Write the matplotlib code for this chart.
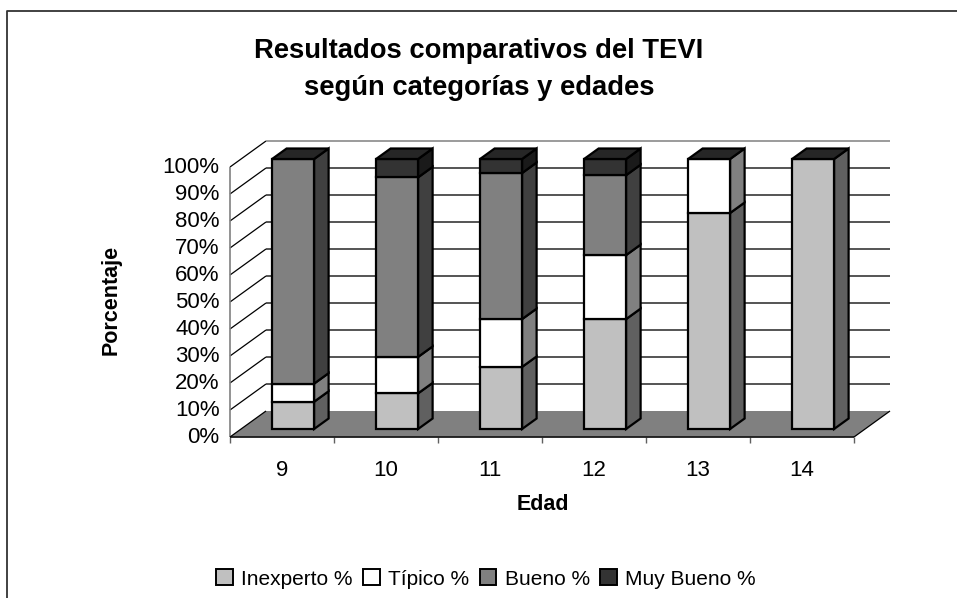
import matplotlib
matplotlib.use("Agg")
import matplotlib.pyplot as plt
from matplotlib.patches import Polygon, Patch
from matplotlib.transforms import ScaledTranslation

plt.rcParams['font.family'] = ['Liberation Sans', 'DejaVu Sans']

# ---- data ----
edades = ['9', '10', '11', '12', '13', '14']
inexperto = [10.1, 13.2, 23.0, 40.7, 80.0, 100.0]
tipico = [6.7, 13.5, 17.7, 23.7, 20.0, 0.0]
bueno = [83.2, 66.5, 54.1, 29.6, 0.0, 0.0]
muy_bueno = [0.0, 6.8, 5.2, 6.0, 0.0, 0.0]
series_names = ['Inexperto %', 'Típico %', 'Bueno %', 'Muy Bueno %']
y_ticks = list(range(0, 101, 10))
y_labels = [f'{v}%' for v in y_ticks]

# ---- style ----
W, H = 957, 598
front = '#C0C0C0', '#FFFFFF', '#808080', '#333333'
side = '#606060', '#808080', '#404040', '#1A1A1A'
top_col = '#262626'
X0, X1, Y0, Y1 = 230, 854, 437, 167   # front plane in pixels
DX, DY = 36 / 104, 26 / 2.7           # full depth in data units
BAR_D0, BAR_D1 = 8 / 26, 18.5 / 26    # bar depth range
BAR_W = 42 / 104

fig = plt.figure(figsize=(W / 100, H / 100), dpi=100, facecolor='white')
ax = fig.add_axes([X0 / W, 1 - Y0 / H, (X1 - X0) / W, (Y0 - Y1) / H])
ax.set_xlim(0, len(edades))
ax.set_ylim(0, 100)
ax.patch.set_visible(False)
for s in ax.spines.values():
    s.set_visible(False)


def P(x, y, d=0.0):
    return (x + d * DX, y + d * DY)


def poly(pts, fc, ec='black', lw=1.6, z=3):
    ax.add_patch(Polygon(pts, closed=True, fc=fc, ec=ec, lw=lw, zorder=z,
                         clip_on=False, joinstyle='miter'))


def line(pts, color='black', lw=1.0, z=1):
    ax.plot(*zip(*pts), color=color, lw=lw, zorder=z, clip_on=False,
            solid_capstyle='butt')


n = len(edades)
# floor
poly([P(0, 0), P(0, 0, 1), P(n, 0, 1), P(n, 0)], '#808080', ec='none', lw=0, z=0.5)
# walls and gridlines
for v in y_ticks[1:]:
    line([P(0, v), P(0, v, 1)], color='black', lw=0.9)
    line([P(0, v, 1), P(n, v, 1)],
         color='#808080' if v == 100 else '#262626', lw=1.1)
# axes
line([P(0, 0), P(0, 100)], color='#808080', lw=1.2, z=2)
line([P(0, 0), P(n, 0)], color='#1A1A1A', lw=1.3, z=2)
line([P(0, 0), P(0, 0, 1)], color='black', lw=0.9, z=2)
line([P(n, 0), P(n, 0, 1)], color='black', lw=0.9, z=2)

# stacked 3-D bars
series = [inexperto, tipico, bueno, muy_bueno]
for i in range(n):
    x0 = i + 0.5 - BAR_W / 2
    x1 = x0 + BAR_W
    base = 0.0
    for k, vals in enumerate(series):
        v = vals[i]
        t = base + v
        if v > 0:
            poly([P(x1, base, BAR_D0), P(x1, base, BAR_D1), P(x1, t, BAR_D1), P(x1, t, BAR_D0)], side[k], z=3 + k * .1)
            poly([P(x0, base, BAR_D0), P(x1, base, BAR_D0), P(x1, t, BAR_D0), P(x0, t, BAR_D0)], front[k], z=3.05 + k * .1)
        base = t
    poly([P(x0, base, BAR_D0), P(x1, base, BAR_D0), P(x1, base, BAR_D1), P(x0, base, BAR_D1)], top_col, z=4)

# ticks
ax.set_yticks(y_ticks)
ax.set_yticklabels(y_labels)
ax.set_xticks([i + 0.5 for i in range(n)])
ax.set_xticklabels(edades)
ax.set_xticks(list(range(n + 1)), minor=True)
ax.tick_params(axis='y', length=0, pad=7.5, labelsize=16, colors='black')
ax.tick_params(axis='x', which='major', length=0, pad=16.5, labelsize=16)
ax.tick_params(axis='x', which='minor', length=5.5 * .72, width=1, color='#606060')
shift_up = ScaledTranslation(0, 2 / 100, fig.dpi_scale_trans)
for lab in ax.get_yticklabels():
    lab.set_transform(lab.get_transform() + shift_up)

fig.text(479 / W, 1 - 51.5 / H, 'Resultados comparativos del TEVI', ha='center', va='center',
         fontsize=19.7, fontweight='bold')
fig.text(479 / W, 1 - 87.5 / H, 'según categorías y edades', ha='center', va='center',
         fontsize=19.7, fontweight='bold')
fig.text(543 / W, 1 - 505 / H, 'Edad', ha='center', va='center', fontsize=15.5, fontweight='bold')
fig.text(111 / W, 1 - 300 / H, 'Porcentaje', ha='center', va='center', rotation=90,
         fontsize=15.5, fontweight='bold')

handles = [Patch(fc=c, ec='black', lw=1.4) for c in front]
fig.legend(handles, series_names, ncol=4, loc='center', bbox_to_anchor=(486 / W, 1 - 579 / H),
           frameon=False, fontsize=15, handlelength=0.8, handleheight=0.8,
           handletextpad=0.4, columnspacing=0.5, borderpad=0, labelspacing=0)

# outer frame
fig.add_artist(plt.Line2D([7.5 / W, 7.5 / W, 1], [0, 1 - 11 / H, 1 - 11 / H], color='#333333', lw=1.3))

fig.savefig('out.png', dpi=100)
